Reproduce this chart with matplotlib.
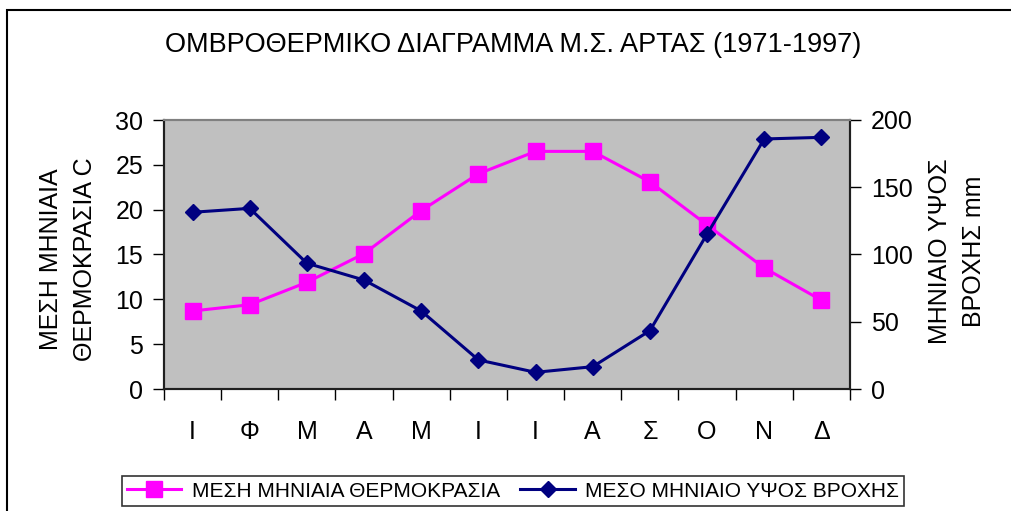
import numpy as np
import matplotlib
matplotlib.use('Agg')
import matplotlib.pyplot as plt
from matplotlib.patches import Rectangle

plt.rcParams['font.family'] = ['Liberation Sans', 'DejaVu Sans']

# δεδομένα
mhnes = ['Ι', 'Φ', 'Μ', 'Α', 'Μ', 'Ι', 'Ι', 'Α', 'Σ', 'Ο', 'Ν', 'Δ']
thermokrasia = [8.7, 9.4, 11.9, 15.1, 19.9, 24.0, 26.5, 26.5, 23.1, 18.3, 13.5, 9.9]
vroxi = [131.4, 134.3, 93.5, 81.0, 58.0, 21.6, 12.4, 16.6, 43.4, 115.2, 185.9, 187.1]

fig = plt.figure(figsize=(10.12, 5.11), dpi=100)
ax = fig.add_axes([164/1012, 1-389/511, (850-164)/1012, (389-120)/511])
ax2 = ax.twinx()

x = np.arange(len(mhnes))
ax.set_facecolor('#C0C0C0')
l1, = ax.plot(x, thermokrasia, color='#FF00FF', lw=2.2, marker='s', ms=11,
              label='ΜΕΣΗ ΜΗΝΙΑΙΑ ΘΕΡΜΟΚΡΑΣΙΑ', zorder=3)
l2, = ax2.plot(x, vroxi, color='#000080', lw=2.2, marker='D', ms=8,
               label='ΜΕΣΟ ΜΗΝΙΑΙΟ ΥΨΟΣ ΒΡΟΧΗΣ', zorder=3)

ax.set_xlim(-0.5, 11.5)
ax.set_ylim(0, 30)
ax2.set_ylim(0, 200)
ax.set_yticks(np.arange(0, 31, 5))
ax2.set_yticks(np.arange(0, 201, 50))

ax.set_xticks(np.arange(-0.5, 12, 1))
ax.set_xticklabels([])
ax.set_xticks(x, minor=True)
ax.set_xticklabels(mhnes, minor=True, fontsize=18)
ax.tick_params(axis='x', which='major', direction='out', length=8, width=1)
ax.tick_params(axis='x', which='minor', length=0, pad=22)
ax.tick_params(axis='y', direction='out', length=8, width=1, labelsize=18, pad=7)
ax2.tick_params(axis='y', direction='out', length=8, width=1, labelsize=18, pad=7)

for a in (ax, ax2):
    a.spines['top'].set_color('#808080')
    a.spines['top'].set_linewidth(1.5)
    for s in ('left', 'right', 'bottom'):
        a.spines[s].set_linewidth(1.5)
        a.spines[s].set_color('#202020')

fig.text(68/1012, 1-259/511, 'ΜΕΣΗ ΜΗΝΙΑΙΑ\nΘΕΡΜΟΚΡΑΣΙΑ C', rotation=90,
         ha='center', va='center', fontsize=18, linespacing=1.5)
fig.text(957/1012, 1-251/511, 'ΜΗΝΙΑΙΟ ΥΨΟΣ\nΒΡΟΧΗΣ mm', rotation=90,
         ha='center', va='center', fontsize=18, linespacing=1.5)

fig.text(513/1012, 1-45/511, 'ΟΜΒΡΟΘΕΡΜΙΚΟ ΔΙΑΓΡΑΜΜΑ Μ.Σ. ΑΡΤΑΣ (1971-1997)',
         ha='center', va='center', fontsize=19.5)

leg = fig.legend([l1, l2], [l1.get_label(), l2.get_label()], ncol=2,
                 loc='center', bbox_to_anchor=(513/1012, 1-491/511),
                 fontsize=15, frameon=True, fancybox=False,
                 handlelength=2.6, handletextpad=0.5, columnspacing=1.0,
                 borderpad=0.25)
leg.get_frame().set_edgecolor('black')
leg.get_frame().set_linewidth(1.2)

fig.add_artist(Rectangle((7/1012, -0.1), 1.2, 1.1 - 10/511,
                         transform=fig.transFigure, fill=False,
                         edgecolor='black', lw=1.5))

fig.savefig('out.png', dpi=100)
